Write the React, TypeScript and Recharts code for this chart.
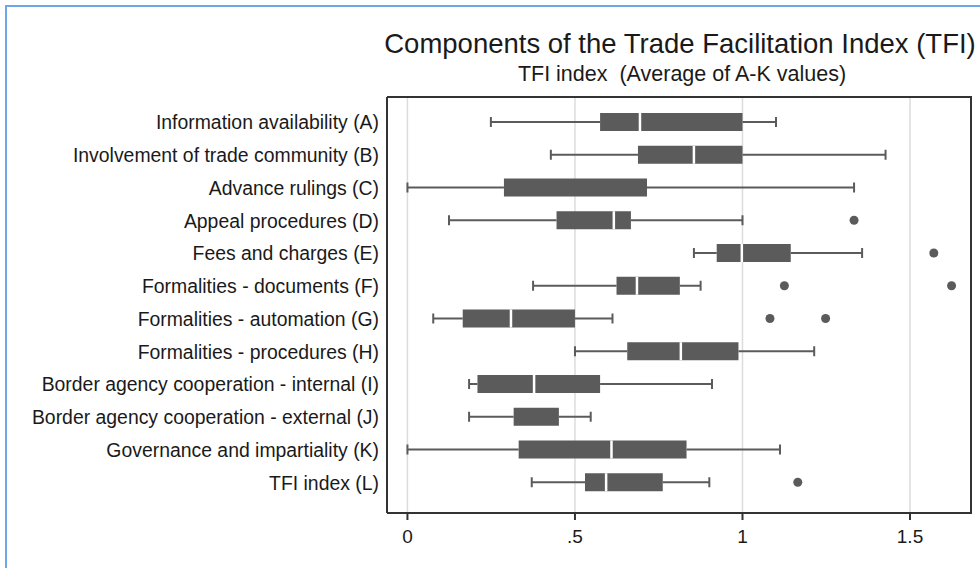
import React from "react";
import { Bar, CartesianGrid, ComposedChart, XAxis, YAxis } from "recharts";

const CATEGORIES = [
  "Information availability (A)",
  "Involvement of trade community (B)",
  "Advance rulings (C)",
  "Appeal procedures (D)",
  "Fees and charges (E)",
  "Formalities - documents (F)",
  "Formalities - automation (G)",
  "Formalities - procedures (H)",
  "Border agency cooperation - internal (I)",
  "Border agency cooperation - external (J)",
  "Governance and impartiality (K)",
  "TFI index (L)",
];

// box plot stats per row
const WHISKER_LOW = [0.249, 0.428, 0, 0.124, 0.855, 0.375, 0.077, 0.5, 0.184, 0.184, 0, 0.371];
const Q1 = [0.575, 0.688, 0.288, 0.445, 0.923, 0.624, 0.165, 0.656, 0.209, 0.317, 0.332, 0.53];
const MEDIAN = [0.694, 0.855, 0.288, 0.616, 0.998, 0.685, 0.309, 0.816, 0.378, 0.317, 0.609, 0.593];
const Q3 = [1.0, 1.0, 0.715, 0.667, 1.144, 0.813, 0.5, 0.988, 0.575, 0.452, 0.833, 0.762];
const WHISKER_HIGH = [1.1, 1.427, 1.333, 1.0, 1.357, 0.875, 0.612, 1.214, 0.909, 0.547, 1.112, 0.901];
const OUTLIERS: number[][] = [[], [], [], [1.333], [1.571], [1.125, 1.624], [1.082, 1.248], [], [], [], [], [1.165]];

const X_TICKS = [0, 0.5, 1, 1.5];

const BOX = "#5b5b5b";
const FRAME = "#333";
const FONT = "'Liberation Sans', Arial, sans-serif";

const rows = CATEGORIES.map((name, i) => ({
  name,
  range: [WHISKER_LOW[i], WHISKER_HIGH[i]],
  lo: WHISKER_LOW[i],
  hi: WHISKER_HIGH[i],
  q1: Q1[i],
  med: MEDIAN[i],
  q3: Q3[i],
  out: OUTLIERS[i],
}));

function BoxShape(props: any) {
  const { x, y, width, height, payload } = props;
  const { lo, hi, q1, med, q3, out } = payload;
  // linear map inside the bar's own span (bar spans lo..hi on the x scale)
  const px = (v: number) => x + ((v - lo) / (hi - lo)) * width;
  const cy = y + height / 2;
  const cap = 5;
  return (
    <g>
      <line x1={px(lo)} x2={px(q1)} y1={cy} y2={cy} stroke={BOX} strokeWidth={2} />
      <line x1={px(q3)} x2={px(hi)} y1={cy} y2={cy} stroke={BOX} strokeWidth={2} />
      <line x1={px(lo)} x2={px(lo)} y1={cy - cap} y2={cy + cap} stroke={BOX} strokeWidth={2} />
      <line x1={px(hi)} x2={px(hi)} y1={cy - cap} y2={cy + cap} stroke={BOX} strokeWidth={2} />
      <rect x={px(q1)} y={y} width={px(q3) - px(q1)} height={height} fill={BOX} />
      {med !== q1 && med !== q3 && (
        <line x1={px(med)} x2={px(med)} y1={y} y2={y + height} stroke="#fff" strokeWidth={2.5} />
      )}
      {out.map((o: number, k: number) => (
        <circle key={k} cx={px(o)} cy={cy} r={4.5} fill={BOX} />
      ))}
    </g>
  );
}

export default function App() {
  return (
    <div style={{ position: "absolute", left: 0, top: 0, width: 980, height: 568, background: "#fff", fontFamily: FONT, overflow: "hidden" }}>
      <div
        style={{
          position: "absolute",
          left: 5,
          top: 5,
          width: 990,
          height: 580,
          borderLeft: "2px solid #6ea6e6",
          borderTop: "2px solid #6ea6e6",
        }}
      />
      <div style={{ position: "absolute", left: 330, width: 700, top: 28, textAlign: "center", fontSize: 27.5, color: "#1a1a1a", whiteSpace: "nowrap" }}>
        Components of the Trade Facilitation Index (TFI)
      </div>
      <div style={{ position: "absolute", left: 380, width: 604, top: 62, textAlign: "center", fontSize: 21.5, color: "#1a1a1a", whiteSpace: "pre" }}>
        {"TFI index  (Average of A-K values)"}
      </div>
      <ComposedChart
        width={980}
        height={568}
        data={rows}
        layout="vertical"
        margin={{ top: 97, right: 9, bottom: 0, left: 0 }}
        style={{ position: "absolute", left: 0, top: 0 }}
      >
        <CartesianGrid horizontal={false} stroke="#dcdcdc" strokeWidth={1.5} />
        <XAxis
          type="number"
          domain={[-0.061, 1.682]}
          ticks={X_TICKS}
          allowDataOverflow
          height={55}
          tickSize={7}
          tickMargin={10}
          axisLine={{ stroke: FRAME, strokeWidth: 2 }}
          tickLine={{ stroke: FRAME, strokeWidth: 2 }}
          tick={{ fill: "#1a1a1a", fontSize: 19, fontFamily: FONT }}
          tickFormatter={(v: number) => (v === 0.5 ? ".5" : String(v))}
        />
        <YAxis
          type="category"
          dataKey="name"
          width={387}
          interval={0}
          tickSize={0}
          tickMargin={8}
          padding={{ top: 9, bottom: 14 }}
          axisLine={{ stroke: FRAME, strokeWidth: 2 }}
          tickLine={false}
          tick={{ fill: "#1a1a1a", fontSize: 19.4, fontFamily: FONT }}
        />
        <Bar dataKey="range" barSize={18} shape={BoxShape} isAnimationActive={false} />
      </ComposedChart>
      {/* top and right edges of the plot frame */}
      <div
        style={{
          position: "absolute",
          left: 387,
          top: 96,
          width: 583,
          height: 416,
          borderTop: `2px solid ${FRAME}`,
          borderRight: `2px solid ${FRAME}`,
          pointerEvents: "none",
        }}
      />
    </div>
  );
}
